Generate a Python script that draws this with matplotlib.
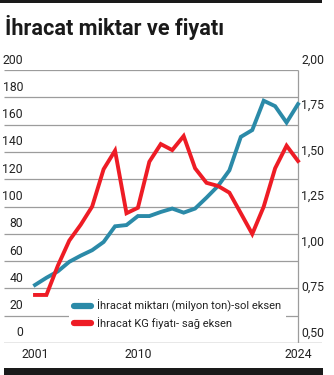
import numpy as np
import matplotlib.pyplot as plt
from matplotlib.lines import Line2D
from matplotlib.patches import Rectangle

plt.rcParams['font.family'] = ['Roboto', 'DejaVu Sans']

# yillar ve seriler
years = np.arange(2001, 2025)
miktar = [42.5, 47.8, 52.5, 59.5, 64, 68, 74, 85.5, 86.4, 93, 93, 96,
          98.5, 95.5, 98.5, 106.5, 115, 126.5, 151, 156, 177.5, 173.5, 161.5, 175]
fiyat = [0.764, 0.764, 0.925, 1.063, 1.15, 1.25, 1.455, 1.557, 1.213, 1.243, 1.496, 1.593,
         1.56, 1.637, 1.46, 1.38, 1.363, 1.326, 1.213, 1.099, 1.249, 1.46, 1.584, 1.5]

left_ticks = [0, 20, 40, 60, 80, 100, 120, 140, 160, 180, 200]
right_ticks = [0.50, 0.75, 1.00, 1.25, 1.50, 1.75, 2.00]
x_labels = [2001, 2010, 2024]

blue = '#2b8aa8'
red = '#ee1c25'
grid_col = '#9c9c9c'
txt_col = '#222222'

W, H = 334, 375
fig = plt.figure(figsize=(W / 100, H / 100), dpi=100)

ax = fig.add_axes([4 / W, 32 / H, 318 / W, 273 / H])
pxyr = (298 - 35) / 23
ax.set_xlim(2001 - 31 / pxyr, 2024 + 24 / pxyr)
ax.set_ylim(0, 200)
ax.axis('off')

ax2 = ax.twinx()
ax2.set_ylim(0.5, 2.0)
ax2.axis('off')

# grid lines stop at the right axis, bottom line runs under the labels
ax.hlines(left_ticks[1:], ax.get_xlim()[0], 2024, color=grid_col, lw=0.9, zorder=1)
ax.axhline(0, color='#8a8a8a', lw=1.0, zorder=1)
ax.vlines(2024, 0, 200, color=grid_col, lw=0.9, zorder=1)

ax.plot(years, miktar, color=blue, lw=2.8, solid_joinstyle='miter', zorder=3)
ax2.plot(years, fiyat, color=red, lw=2.8, solid_joinstyle='miter', zorder=3)

lab_x = ax.get_xlim()[0] + 19 / pxyr
for v in left_ticks:
    ax.annotate(str(v), (lab_x, v), xytext=(0, 7.2), textcoords='offset points',
                ha='right', va='center', fontsize=8.8, color=txt_col)
for v in right_ticks:
    ax2.annotate(f'{v:.2f}'.replace('.', ','), (2024 + 3 / pxyr, v), xytext=(0, 7.2),
                 textcoords='offset points', ha='left', va='center', fontsize=8.8,
                 color=txt_col)
for yr in x_labels:
    ax.annotate(str(yr), (yr, 0), xytext=(0, -8), textcoords='offset points',
                ha='center', va='center', fontsize=8.8, color=txt_col)

handles = [Line2D([], [], color=blue, lw=4.5, solid_capstyle='round'),
           Line2D([], [], color=red, lw=4.5, solid_capstyle='round')]
leg = ax.legend(handles, ['İhracat miktarı (milyon ton)-sol eksen', 'İhracat KG fiyatı- sağ eksen'],
                loc='upper left', bbox_to_anchor=(69 / W, (H - 295) / H),
                bbox_transform=fig.transFigure, frameon=True, fancybox=False,
                framealpha=1, edgecolor='none', facecolor='white', fontsize=8,
                handlelength=1.5, handletextpad=0.6, labelspacing=0.45,
                borderpad=0.45, borderaxespad=0)
leg.set_zorder(5)
for t in leg.get_texts():
    t.set_color(txt_col)

fig.text(5 / W, (H - 35) / H, 'İhracat miktar ve fiyatı', fontsize=15.6, fontweight='bold',
         ha='left', va='baseline', color='#1a1a1a')

# black rules at the top and bottom
fig.add_artist(Rectangle((0, (H - 2.5) / H), 322 / W, 2.5 / H, transform=fig.transFigure,
                         color='#1a1a1a', lw=0))
fig.add_artist(Rectangle((4 / W, 0), 319 / W, 7 / H, transform=fig.transFigure,
                         color='#1a1a1a', lw=0))

fig.savefig('out.png', dpi=100)
